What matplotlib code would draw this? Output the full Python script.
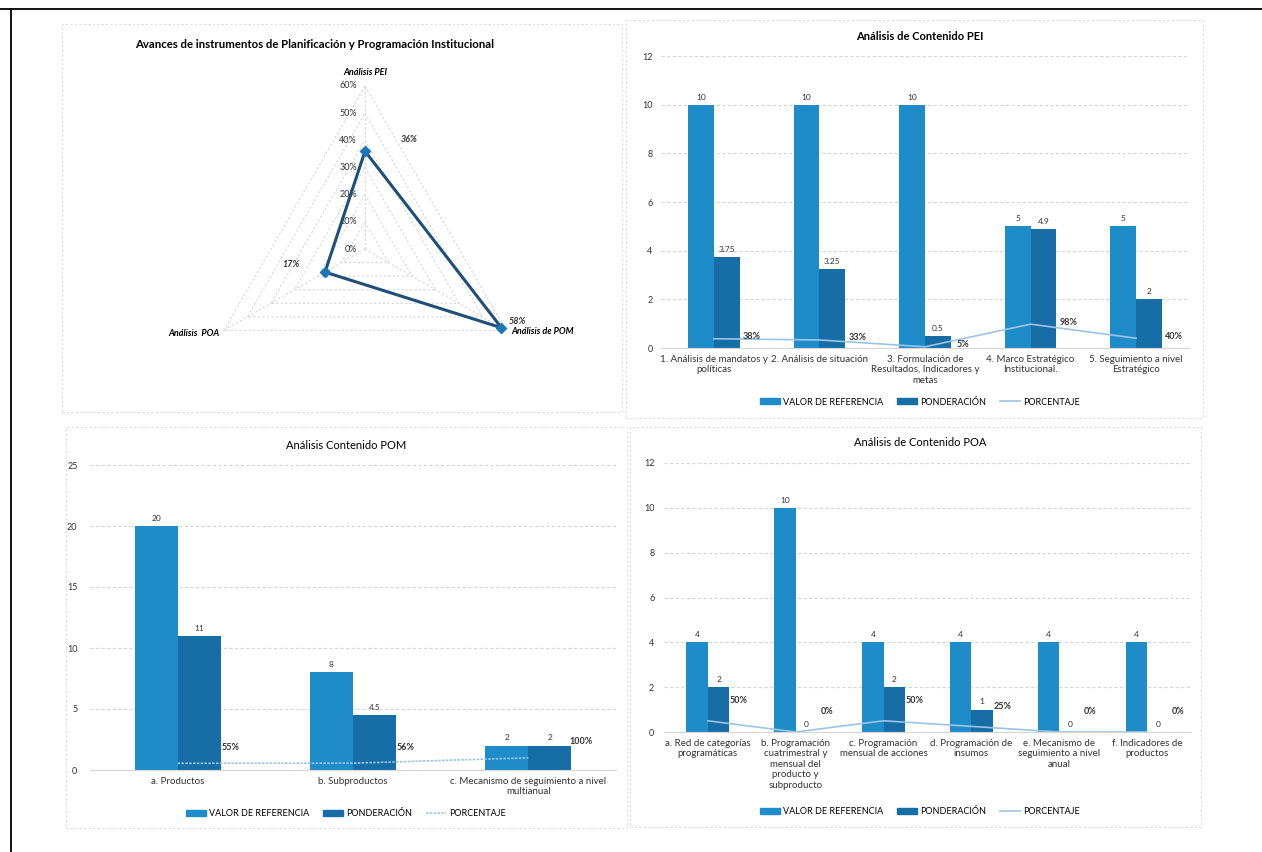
import numpy as np
import matplotlib
matplotlib.use("Agg")
import matplotlib.pyplot as plt
import matplotlib.patches as mpatches
from matplotlib.lines import Line2D

plt.rcParams['font.family'] = ['Lato', 'DejaVu Sans']

# ---- data ----
radar_labels = ['Análisis PEI', 'Análisis de POM', 'Análisis  POA']
radar_vals = [0.36, 0.58, 0.17]
radar_ticks = [0.0, 0.1, 0.2, 0.3, 0.4, 0.5, 0.6]

pei_cats = ['1. Análisis de mandatos y\npolíticas', '2. Análisis de situación',
            '3. Formulación de\nResultados, Indicadores y\nmetas',
            '4. Marco Estratégico\nInstitucional.', '5. Seguimiento a nivel\nEstratégico']
pei_ref = [10, 10, 10, 5, 5]
pei_pond = [3.75, 3.25, 0.5, 4.9, 2]
pei_pct = [0.38, 0.33, 0.05, 0.98, 0.40]

pom_cats = ['a. Productos', 'b. Subproductos', 'c. Mecanismo de seguimiento a nivel\nmultianual']
pom_ref = [20, 8, 2]
pom_pond = [11, 4.5, 2]
pom_pct = [0.55, 0.56, 1.00]

poa_cats = ['a. Red de categorías\nprogramáticas',
            'b. Programación\ncuatrimestral y\nmensual del\nproducto y\nsubproducto',
            'c. Programación\nmensual de acciones', 'd. Programación de\ninsumos',
            'e. Mecanismo de\nseguimiento a nivel\nanual', 'f. Indicadores de\nproductos']
poa_ref = [4, 10, 4, 4, 4, 4]
poa_pond = [2, 0, 2, 1, 0, 0]
poa_pct = [0.50, 0.0, 0.50, 0.25, 0.0, 0.0]

series_names = ['VALOR DE REFERENCIA', 'PONDERACIÓN', 'PORCENTAJE']

C_REF = '#1f8cca'
C_POND = '#176ea6'
C_PCT = '#9cc4e4'
C_GRID = '#d6d6d6'
C_TXT = '#333333'

W, H = 1262, 852
fig = plt.figure(figsize=(W / 100, H / 100), dpi=100)


def box(l, t, r, b):
    return [l / W, 1 - b / H, (r - l) / W, (b - t) / H]


# outer black frame (top + left edge of the scanned page)
fig.add_artist(Line2D([0, 1], [1 - 9 / H, 1 - 9 / H], color='black', lw=1.3))
fig.add_artist(Line2D([11 / W, 11 / W], [0, 1 - 9 / H], color='black', lw=1.3))

# dotted chart-area frames
for l, t, r, b in [(62, 24, 622, 412), (626, 20, 1203, 418),
                   (66, 427, 627, 828), (630, 427, 1201, 827)]:
    fig.add_artist(mpatches.Rectangle((l / W, 1 - b / H), (r - l) / W, (b - t) / H,
                                      transform=fig.transFigure, fill=False,
                                      ec='#dcdcdc', lw=0.8, ls=(0, (2, 2))))

# ---- radar chart ----
# pixel geometry: centre (365,249), 60% -> 163 px
k = 163 / 60
cx, cy = 365, 249
ax = fig.add_axes(box(62, 24, 622, 412))
ax.set_xlim((62 - cx) / k, (622 - cx) / k)
ax.set_ylim((cy - 412) / k, (cy - 24) / k)
ax.axis('off')

angles = np.deg2rad([90, -30, 210])
for t in radar_ticks[1:]:
    r = t * 100
    xs = list(r * np.cos(angles)) + [r * np.cos(angles[0])]
    ys = list(r * np.sin(angles)) + [r * np.sin(angles[0])]
    ax.plot(xs, ys, color=C_GRID, lw=0.8, ls=(0, (2, 2)))
for a in angles:
    ax.plot([0, 60 * np.cos(a)], [0, 60 * np.sin(a)], color=C_GRID, lw=0.8, ls=(0, (2, 2)))
for t in radar_ticks:
    ax.text(-3, t * 100, f'{t:.0%}', ha='right', va='center', fontsize=6.5, color=C_TXT)

rv = np.array(radar_vals) * 100
px = list(rv * np.cos(angles)) + [rv[0] * np.cos(angles[0])]
py = list(rv * np.sin(angles)) + [rv[0] * np.sin(angles[0])]
ax.plot(px, py, color='#1f4e79', lw=2.2, zorder=3)
ax.plot(px[:-1], py[:-1], ls='none', marker='D', ms=5, color='#1b78b8', zorder=4)

lab_off = [(44, 12), (16, 6), (-34, 8)]
for xv, yv, v, off in zip(px, py, radar_vals, lab_off):
    ax.annotate(f'{v:.0%}', (xv, yv), xytext=off, textcoords='offset pixels',
                ha='center', va='center', fontsize=6.5, fontweight='bold',
                style='italic', color=C_TXT)

ax.text(0, 65, radar_labels[0], ha='center', va='center', fontsize=6.5,
        fontweight='bold', style='italic')
ax.text(60 * np.cos(angles[1]) + 2, 60 * np.sin(angles[1]) - 0.5, radar_labels[1],
        ha='left', va='center', fontsize=6.5, fontweight='bold', style='italic')
ax.text(60 * np.cos(angles[2]) - 1.5, 60 * np.sin(angles[2]) - 1, radar_labels[2],
        ha='right', va='center', fontsize=6.5, fontweight='bold', style='italic')
fig.text(135 / W, 1 - 44 / H,
         'Avances de instrumentos de Planificación y Programación Institucional',
         ha='left', va='center', fontsize=8.2, fontweight='bold')


# ---- bar charts ----
def bar_chart(rect, cats, ref, pond, pct, ymax, ystep, title, title_xy, legend_y,
              pct_off, pct_ls='-', ypad=7):
    ax = fig.add_axes(box(*rect))
    x = np.arange(len(cats))
    w = 0.245
    b1 = ax.bar(x - w / 2, ref, w, color=C_REF, zorder=2)
    b2 = ax.bar(x + w / 2, pond, w, color=C_POND, zorder=2)
    ax.plot(x, pct, color=C_PCT, lw=1.2, ls=pct_ls, zorder=3)
    ax.bar_label(b1, labels=[f'{v:g}' for v in ref], padding=3, fontsize=6, color=C_TXT)
    ax.bar_label(b2, labels=[f'{v:g}' for v in pond], padding=3, fontsize=6, color=C_TXT)
    for xi, p in zip(x, pct):
        ax.annotate(f'{p:.0%}', (xi, p), xytext=pct_off, textcoords='offset pixels',
                    ha='center', va='center', fontsize=6.5, fontweight='bold', color=C_TXT)
    ax.set_xlim(-0.5, len(cats) - 0.5)
    ax.set_ylim(0, ymax)
    ax.set_yticks(np.arange(0, ymax + 0.01, ystep))
    ax.set_xticks(x, cats, fontsize=7, color=C_TXT)
    ax.tick_params(axis='y', labelsize=6.5, colors=C_TXT, length=0, pad=ypad)
    ax.tick_params(axis='x', length=0, pad=5)
    ax.yaxis.grid(True, color=C_GRID, lw=0.8, ls=(0, (3, 2)), zorder=0)
    for s in ['top', 'right', 'left']:
        ax.spines[s].set_visible(False)
    ax.spines['bottom'].set_color(C_GRID)
    fig.text(title_xy[0] / W, 1 - title_xy[1] / H, title, ha='center', va='center',
             fontsize=8, fontweight='bold' if 'PEI' in title else 'normal')
    handles = [mpatches.Patch(color=C_REF), mpatches.Patch(color=C_POND),
               Line2D([], [], color=C_PCT, lw=1.2, ls=pct_ls)]
    fig.legend(handles, series_names, loc='center', ncol=3, frameon=False,
               bbox_to_anchor=(title_xy[0] / W, 1 - legend_y / H), fontsize=6.5,
               handlelength=2.2, handleheight=0.6, columnspacing=1.6, handletextpad=0.3)
    return ax


bar_chart((661, 56, 1189, 348), pei_cats, pei_ref, pei_pond, pei_pct, 12, 2,
          'Análisis de Contenido PEI', (920, 36), 402, (38, 2), ypad=6)
bar_chart((90, 465, 616, 770), pom_cats, pom_ref, pom_pond, pom_pct, 25, 5,
          'Análisis Contenido POM', (346, 445), 814, (53, 16), pct_ls=(0, (1.5, 0.8)),
          ypad=9)
bar_chart((664, 463, 1191, 732), poa_cats, poa_ref, poa_pond, poa_pct, 12, 2,
          'Análisis de Contenido POA', (920, 443), 812, (31, 20), ypad=7)

fig.savefig('out.png', dpi=100)
